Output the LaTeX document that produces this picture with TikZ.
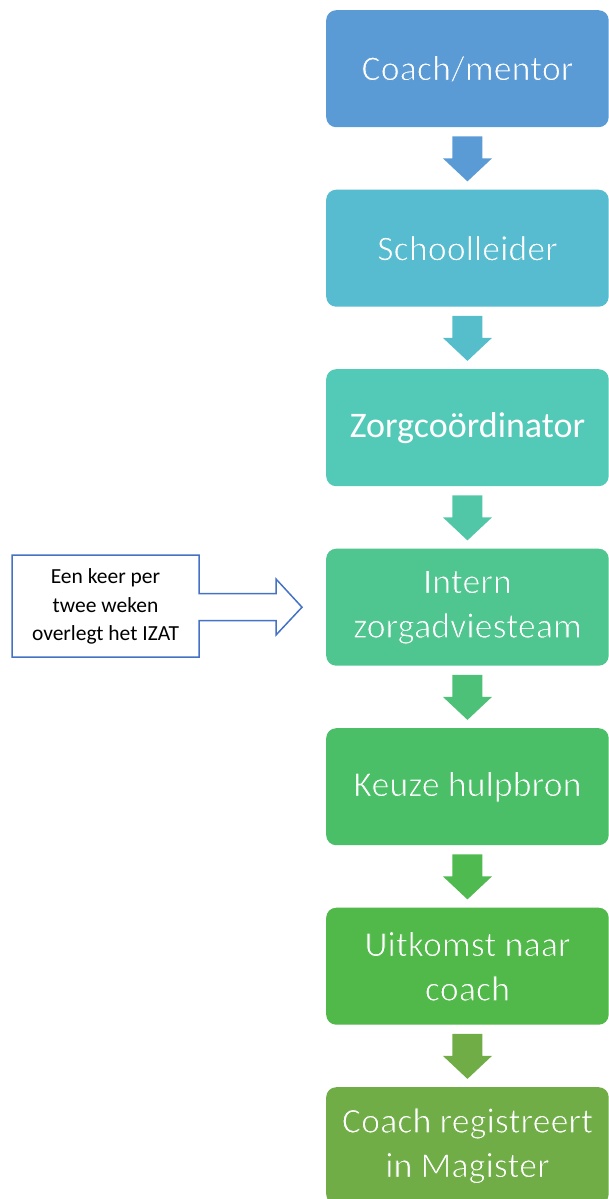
\documentclass[tikz,border=0pt]{standalone}
\usepackage{fontspec}
\setmainfont{Carlito}
\usetikzlibrary{calc}
\definecolor{cA}{HTML}{5B9BD5}
\definecolor{cB}{HTML}{57BCCF}
\definecolor{cC}{HTML}{53C9B7}
\definecolor{cD}{HTML}{4FC58F}
\definecolor{cE}{HTML}{4ABF67}
\definecolor{cF}{HTML}{50B94A}
\definecolor{cG}{HTML}{70AD47}
\definecolor{callblue}{HTML}{4472C4}
\colorlet{aA}{cA}
\colorlet{aB}{cB!80!cC}
\colorlet{aC}{cC!60!cD}
\colorlet{aD}{cD!40!cE}
\colorlet{aE}{cE!20!cF}
\colorlet{aF}{cG}
% thin the glyphs by stroking them in the box colour (imitates a light weight)
\newcommand\lighttext[2]{\special{pdf:literal direct q #1 RG 0.9 w 2 Tr}#2\special{pdf:literal direct Q}}
\tikzset{
  flowbox/.style={rounded corners=10pt, minimum width=282.5pt, minimum height=117pt,
    inner sep=0pt, text=white, align=center, anchor=north west,
    font=\fontsize{36}{44.5}\selectfont},
  calloutline/.style={draw=callblue, line width=1.5pt, fill=white, line join=miter},
}
\newcommand\flowarr[3]{%
  \fill[#3] ($(#1.south)+(-15,9)$) -- ($(#1.south)+(15,9)$) -- ($(#1.south)+(15,31)$)
    -- ($(#1.south)+(24.5,31)$) -- ($(#1.south)+(0,54)$) -- ($(#1.south)+(-24.5,31)$)
    -- ($(#1.south)+(-15,31)$) -- cycle;}
\begin{document}
\begin{tikzpicture}[x=1pt,y=-1pt]
\useasboundingbox (0,0) rectangle (609,1199);
\node[flowbox, fill=cA] (b1) at (326,10) {\lighttext{0.357 0.608 0.835}{Coach/mentor}};
\node[flowbox, fill=cB] (b2) at (326,189.5) {\lighttext{0.341 0.737 0.812}{Schoolleider}};
\node[flowbox, fill=cC] (b3) at (326,369) {Zorgcoördinator};
\node[flowbox, fill=cD] (b4) at (326,548.5) {\lighttext{0.310 0.773 0.561}{Intern}\\\lighttext{0.310 0.773 0.561}{zorgadviesteam}};
\node[flowbox, fill=cE] (b5) at (326,728) {\lighttext{0.290 0.749 0.404}{Keuze hulpbron}};
\node[flowbox, fill=cF] (b6) at (326,907.5) {\lighttext{0.314 0.725 0.290}{Uitkomst naar}\\\lighttext{0.314 0.725 0.290}{coach}};
\node[flowbox, fill=cG] (b7) at (326,1087) {\lighttext{0.439 0.678 0.278}{Coach registreert}\\\lighttext{0.439 0.678 0.278}{in Magister}};
\flowarr{b1}{b2}{aA}
\flowarr{b2}{b3}{aB}
\flowarr{b3}{b4}{aC}
\flowarr{b4}{b5}{aD}
\flowarr{b5}{b6}{aE}
\flowarr{b6}{b7}{aF}
\coordinate (tip) at ($(b4.west)+(-24,0)$);
\draw[calloutline] (12,555) -- (199,555) -- (199,593.5) -- (276,593.5) -- (276,579)
  -- (tip) -- (276,635) -- (276,620.5) -- (199,620.5) -- (199,657) -- (12,657) -- cycle;
\node[align=center, inner sep=0pt, font=\fontsize{21.5}{28.5}\selectfont] (note) at (105.5,606.5)
  {Een keer per\\twee weken\\overlegt het IZAT};
\end{tikzpicture}
\end{document}
